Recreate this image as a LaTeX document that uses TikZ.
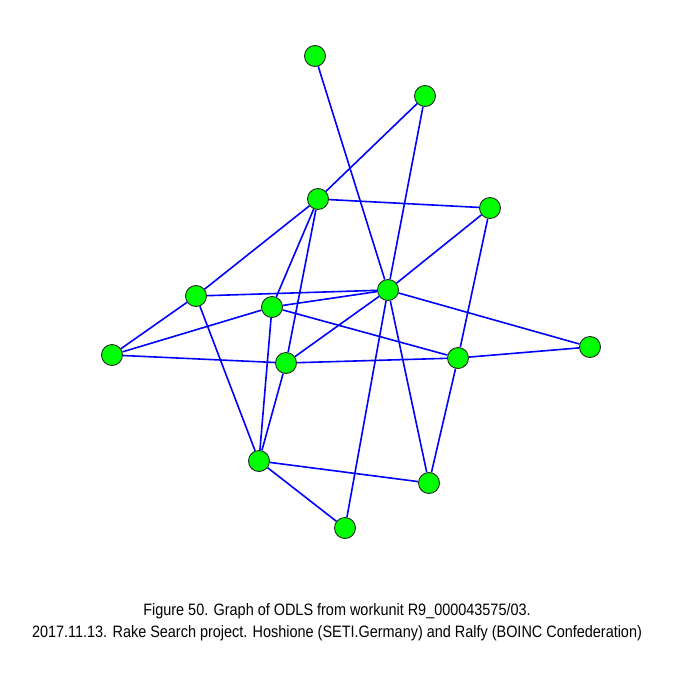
\documentclass[tikz,border=0pt]{standalone}
\usepackage{fontspec}
\setmainfont{Liberation Sans}[FakeStretch=0.875]
\usetikzlibrary{backgrounds}
\begin{document}
\begin{tikzpicture}[
  x=1pt, y=-1pt,
  vertex/.style={circle, draw=black!85, fill=green, minimum size=21pt, inner sep=0pt, line width=0.9pt},
  edge/.style={draw=blue, line width=1.6pt},
  caption/.style={font=\fontsize{16.5}{22}\selectfont, align=center},
]
\useasboundingbox (0,0) rectangle (675,675);

%% Vertices
\node[vertex] (a) at (315,56) {};
\node[vertex] (b) at (425,96) {};
\node[vertex] (c) at (318,199) {};
\node[vertex] (d) at (490,208) {};
\node[vertex] (e) at (196,296) {};
\node[vertex] (f) at (272,307) {};
\node[vertex] (g) at (388,290) {};
\node[vertex] (h) at (112,355) {};
\node[vertex] (i) at (286,363) {};
\node[vertex] (j) at (458,358) {};
\node[vertex] (k) at (590,347) {};
\node[vertex] (l) at (259,461) {};
\node[vertex] (m) at (429,483) {};
\node[vertex] (n) at (345,528) {};

%% Edges
\begin{scope}[on background layer]
\foreach \u/\v in {a/g, b/c, b/g, c/d, c/e, c/f, c/i, d/g, d/j, e/g, e/h, e/l,
                   f/g, f/h, f/j, f/l, g/i, g/k, g/m, g/n, h/i, i/j, j/k, j/m,
                   i/l, l/m, l/n}
  \draw[edge] (\u) -- (\v);
\end{scope}

%% Caption
\node[caption] (cap) at (337,622)
  {Figure 50. Graph of ODLS from workunit R9\_000043575/03.\\
   2017.11.13. Rake Search project. Hoshione (SETI.Germany) and Ralfy (BOINC Confederation)};
\end{tikzpicture}
\end{document}
